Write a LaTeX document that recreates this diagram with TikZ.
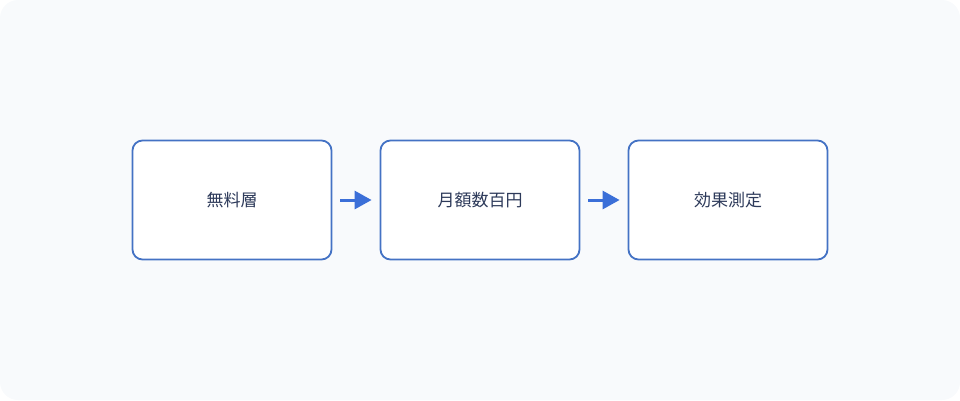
\documentclass[tikz,border=0pt]{standalone}
\usepackage{fontspec}
\newfontfamily\cjk{Noto Sans CJK JP}
\usetikzlibrary{arrows.meta}
\definecolor{bgc}{HTML}{F8FAFC}
\definecolor{boxline}{HTML}{4472C4}
\definecolor{arrc}{HTML}{3B6FD8}
\definecolor{txt}{HTML}{2D3A5A}
\begin{document}
\begin{tikzpicture}[x=1pt,y=-1pt,
  stepbox/.style={draw=boxline,line width=1.8pt,fill=white,rounded corners=10pt,minimum width=199pt,minimum height=119pt,inner sep=0pt,font=\cjk\fontsize{17}{19}\selectfont,text=txt},
  flow/.style={draw=arrc,line width=3pt,-{Triangle[length=17pt,width=18pt]}}]
\useasboundingbox (0,0) rectangle (960,400);
\fill[bgc,rounded corners=18pt] (0,0) rectangle (960,400);
\node[stepbox] (a) at (232,200) {無料層};
\node[stepbox] (b) at (480,200) {月額数百円};
\node[stepbox] (c) at (728,200) {効果測定};
\draw[flow] ([xshift=8pt]a.east) -- ([xshift=-8pt]b.west);
\draw[flow] ([xshift=8pt]b.east) -- ([xshift=-8pt]c.west);
\end{tikzpicture}
\end{document}
